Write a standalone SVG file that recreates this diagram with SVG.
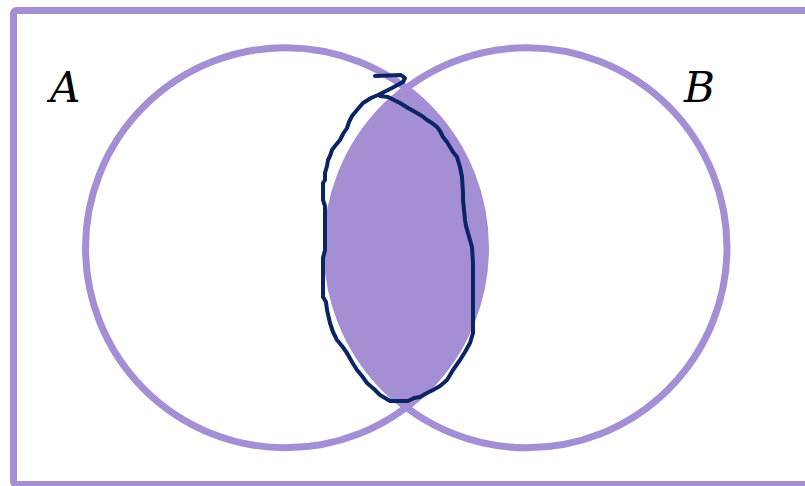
<svg xmlns="http://www.w3.org/2000/svg" width="805" height="486" viewBox="0 0 805 486">
<style>
.ring{fill:none;stroke:#a48fd4;stroke-width:7}
.lens{fill:#a48fd4;stroke:none}
.pen{fill:none;stroke:#0b2463;stroke-width:4;stroke-linejoin:round;stroke-linecap:round}
.lbl{font-family:"DejaVu Serif","Liberation Serif",serif;font-style:italic;font-size:42px;fill:#000}
</style>
<rect width="805" height="486" fill="#fff"/>
<g id="universe">
<rect x="13.5" y="10.5" width="800" height="474" rx="3" class="ring"/>
</g>
<g id="intersection">
<path class="lens" d="M406.25,88.35 A200,200 0 0 1 406.25,407.15 A200,200 0 0 1 406.25,88.35 Z"/>
</g>
<g id="setA">
<circle cx="285.5" cy="247.75" r="200" class="ring"/>
<text x="50" y="102" class="lbl">A</text>
</g>
<g id="setB">
<circle cx="527" cy="247.75" r="200" class="ring"/>
<text x="684" y="102" class="lbl">B</text>
</g>
<g id="connectors">
<polyline class="pen" points="375,76 401,75 405,78 403,82 392,88 378,95 371,98 363,103 357,110 352,116 349,122 347,128 343,134 340,140 335,146 332,150 330,156 328,160 327,166 325,173 325,180 323,183 323,200 325,206 325,213 325,250 323,258 323,297 326,302 327,310 330,323 333,332 337,340 342,346 347,353 352,362 357,370 362,376 367,383 374,389 380,395 385,398 390,401 408,401 414,398 420,397 427,393 433,390 440,386 447,380 453,370 460,360 465,352 470,343 473,333 473,263 472,247 470,240 468,233 466,226 465,220 464,210 463,200 463,193 462,177 460,167 457,157 453,152 450,147 447,142 443,137 440,131 437,127 432,123 427,120 422,116 417,113 408,108 400,103 392,99 388,97 380,96"/>
</g>
</svg>
